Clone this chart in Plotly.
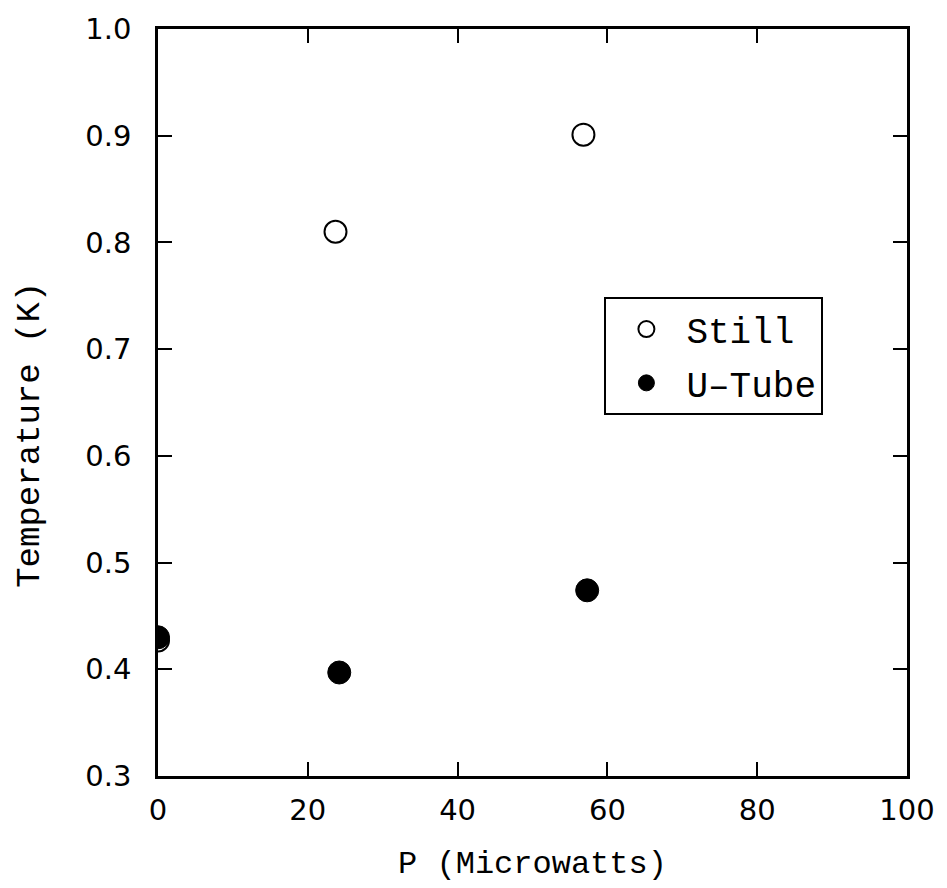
import plotly.graph_objects as go

# Measured temperatures vs applied heater power
still_power = [0.0, 23.7, 56.8]
still_temp = [0.427, 0.810, 0.901]

utube_power = [0.0, 24.2, 57.3]
utube_temp = [0.430, 0.397, 0.474]

x_ticks = [0, 20, 40, 60, 80, 100]
y_ticks = [0.3, 0.4, 0.5, 0.6, 0.7, 0.8, 0.9, 1.0]

mono = "Liberation Mono, Courier New, monospace"
sans = "DejaVu Sans, Arial, sans-serif"

fig = go.Figure()

fig.add_trace(go.Scatter(
    x=still_power, y=still_temp, mode="markers", name="Still",
    legendgroup="still",
    marker=dict(symbol="circle", size=22, color="white",
                line=dict(color="black", width=2)),
))
fig.add_trace(go.Scatter(
    x=utube_power, y=utube_temp, mode="markers", name="U\u2013Tube",
    legendgroup="utube",
    marker=dict(symbol="circle", size=23, color="black",
                line=dict(color="black", width=1)),
))

axis_common = dict(
    showline=True, linecolor="black", linewidth=2.5, mirror="ticks",
    ticks="inside", ticklen=14, tickwidth=2, tickcolor="black",
    showgrid=False, zeroline=False,
    tickfont=dict(family=sans, size=29, color="black"),
)

fig.update_xaxes(
    range=[0, 100], tickvals=x_ticks, ticktext=[str(v) for v in x_ticks],
    title=dict(text="P (Microwatts)", font=dict(family=mono, size=32, color="black"),
               standoff=26),
    ticklabelstandoff=6,
    **axis_common,
)
fig.update_yaxes(
    range=[0.3, 1.0], tickvals=y_ticks, ticktext=[f"{v:.1f}" for v in y_ticks],
    ticklabelstandoff=18,
    **axis_common,
)

# Vertical axis title, placed as a rotated annotation
fig.add_annotation(
    text="Temperature (K)", xref="paper", yref="paper",
    x=-0.172, y=0.457, xanchor="center", yanchor="middle",
    textangle=-90, showarrow=False,
    font=dict(family=mono, size=34, color="black"),
)

fig.update_layout(
    width=947, height=888,
    margin=dict(l=158, r=39, t=24, b=112),
    plot_bgcolor="white", paper_bgcolor="white",
    showlegend=True,
    legend=dict(
        x=0.596, y=0.641, xanchor="left", yanchor="top",
        bordercolor="black", borderwidth=2, bgcolor="white",
        font=dict(family=mono, size=36, color="black"),
        tracegroupgap=4, itemsizing="trace", itemwidth=70,
    ),
)

fig.write_html("out.html")
